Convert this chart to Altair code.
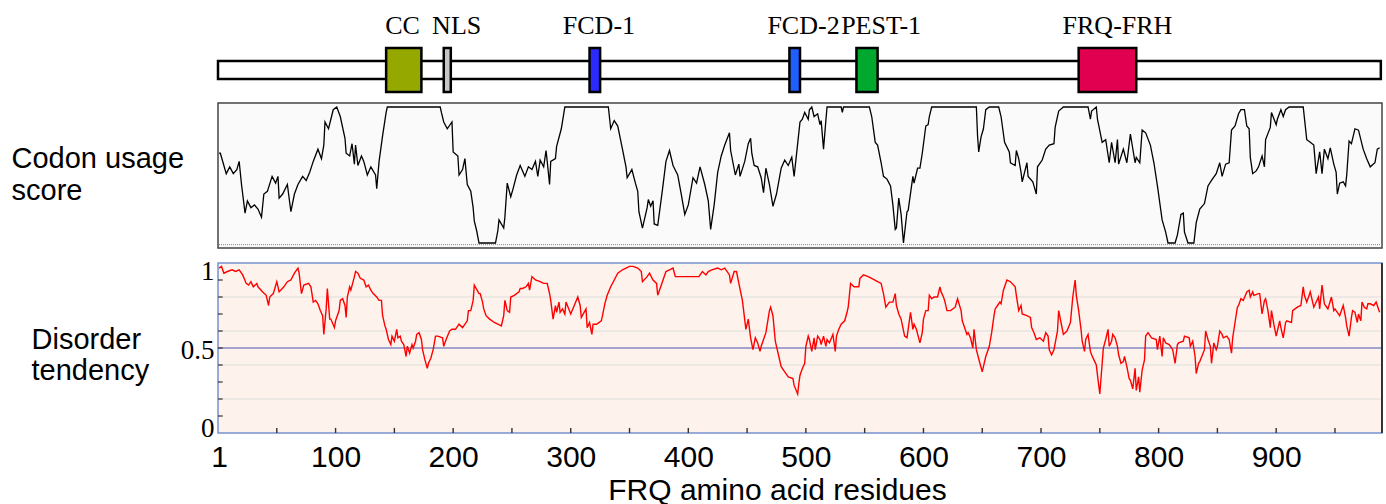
import altair as alt
import pandas as pd

# ---------------- data ----------------
SEQ_END = 990

domain_names = ["CC", "NLS", "FCD-1", "FCD-2", "PEST-1", "FRQ-FRH"]
domain_start = [143, 192, 316, 486, 543, 732]
domain_end = [173, 198, 325, 495, 561, 781]
domain_label_pos = [157, 203, 324, 498, 564, 765]
domain_colors = ["#94a800", "#c6c6c6", "#2b2bff", "#1f5eff", "#00a82d", "#e1004f"]

codon_res = [1, 2, 7, 10, 13, 16, 18, 20, 23, 25, 28, 31, 34, 37, 39, 42, 46, 49, 51, 52,
             55, 59, 62, 65, 68, 72, 75, 78, 81, 85, 88, 90, 91, 94, 98, 101, 104, 108, 109, 112,
             114, 116, 117, 119, 122, 124, 127, 130, 134, 135, 137, 140, 143, 144, 189, 190, 192, 195, 199, 200,
             204, 205, 208, 210, 212, 215, 217, 218, 220, 222, 236, 238, 239, 243, 244, 246, 249, 251, 254, 257,
             261, 264, 267, 270, 272, 274, 277, 279, 280, 282, 283, 287, 288, 292, 295, 332, 334, 337, 340, 344,
             347, 348, 352, 355, 357, 358, 361, 365, 366, 368, 370, 371, 374, 378, 381, 384, 387, 391, 394, 397,
             400, 404, 407, 410, 414, 417, 419, 422, 425, 428, 431, 435, 436, 440, 443, 444, 448, 451, 453, 454,
             456, 459, 462, 464, 466, 469, 472, 475, 479, 482, 485, 488, 490,
             494, 495, 497, 499, 502, 503, 505, 507, 510, 512, 513, 515, 517, 518, 530, 531, 532, 554, 556, 559,
             561, 564, 566, 569, 572, 574, 576, 577, 579, 581, 583, 586, 587, 591, 592, 595, 597, 599, 602, 604,
             605, 607, 645, 646, 647, 649, 651, 653, 656, 664, 666, 669, 673, 674, 678, 679, 681, 683, 684, 688,
             689, 693, 694, 696, 697, 701, 704, 707, 711, 712, 715, 719, 740, 742, 743, 747, 748, 752, 755, 758,
             760, 763, 765, 766, 770, 773, 776, 780, 781, 784, 786, 789, 793, 796, 799, 803, 806, 808, 814, 816,
             819, 821, 822, 825, 830, 832, 835, 839, 842, 845, 849, 852, 854, 857, 860, 862, 865, 868, 870, 873,
             875, 877, 878, 880, 883, 885, 888, 890, 891, 895, 896, 900, 901, 904, 906, 908, 911, 923, 926, 929,
             932, 934, 937, 939, 941, 944, 946, 949, 951, 952, 954, 957, 959, 960, 962, 964, 967, 970, 974, 977,
             980, 984, 986, 988]
codon_val = [0.66, 0.66, 0.51, 0.56, 0.51, 0.54, 0.60, 0.43, 0.22, 0.31, 0.26, 0.28, 0.25, 0.19, 0.36, 0.38, 0.49, 0.44, 0.49, 0.33,
             0.36, 0.43, 0.23, 0.36, 0.43, 0.49, 0.46, 0.52, 0.60, 0.69, 0.62, 0.72, 0.89, 0.84, 0.98, 1.0, 0.93, 0.77, 0.66, 0.64,
             0.73, 0.58, 0.72, 0.57, 0.64, 0.60, 0.50, 0.56, 0.50, 0.40, 0.60, 0.79, 0.96, 1.0, 1.0, 0.96, 0.89, 0.84, 0.89, 0.67,
             0.64, 0.50, 0.54, 0.62, 0.43, 0.38, 0.26, 0.16, 0.09, 0.0, 0.0, 0.09, 0.17, 0.11, 0.19, 0.44, 0.34, 0.40, 0.50, 0.57,
             0.49, 0.56, 0.54, 0.60, 0.49, 0.61, 0.56, 0.68, 0.60, 0.43, 0.60, 0.62, 0.71, 0.84, 1.0, 1.0, 0.84, 0.90, 0.86, 0.69,
             0.56, 0.48, 0.54, 0.44, 0.38, 0.23, 0.11, 0.26, 0.32, 0.27, 0.31, 0.14, 0.13, 0.39, 0.60, 0.68, 0.57, 0.50, 0.36, 0.21,
             0.28, 0.48, 0.44, 0.56, 0.43, 0.31, 0.10, 0.28, 0.52, 0.64, 0.72, 0.81, 0.68, 0.50, 0.58, 0.49, 0.60, 0.73, 0.77, 0.66,
             0.57, 0.56, 0.48, 0.37, 0.55, 0.43, 0.27, 0.36, 0.55, 0.61, 0.57, 0.63, 0.49,
             0.81, 0.89, 0.91, 0.96, 0.91, 0.98, 1.0, 0.93, 0.95, 0.87, 0.90, 0.69, 0.90, 1.0, 1.0, 0.96, 1.0, 1.0, 0.93, 0.74,
             0.72, 0.59, 0.49, 0.47, 0.42, 0.28, 0.10, 0.11, 0.33, 0.21, 0.0, 0.23, 0.24, 0.49, 0.44, 0.55, 0.55, 0.66, 0.86, 0.87,
             0.93, 1.0, 1.0, 0.79, 0.67, 0.78, 0.84, 0.98, 1.0, 1.0, 0.93, 0.74, 0.67, 0.59, 0.57, 0.68, 0.62, 0.52, 0.45, 0.59,
             0.49, 0.45, 0.42, 0.36, 0.56, 0.61, 0.69, 0.72, 0.73, 0.85, 0.97, 1.0, 1.0, 0.91, 0.97, 1.0, 0.91, 0.74, 0.76, 0.59,
             0.74, 0.59, 0.76, 0.58, 0.69, 0.59, 0.80, 0.59, 0.63, 0.59, 0.83, 0.81, 0.72, 0.59, 0.42, 0.17, 0.08, 0.0, 0.0, 0.06,
             0.21, 0.22, 0.08, 0.0, 0.0, 0.15, 0.25, 0.29, 0.42, 0.46, 0.51, 0.59, 0.49, 0.58, 0.59, 0.83, 0.86, 0.95, 0.98, 0.98,
             0.86, 0.84, 0.63, 0.51, 0.53, 0.56, 0.64, 0.56, 0.76, 0.85, 0.96, 0.87, 0.91, 0.98, 0.93, 0.98, 1.0, 1.0, 0.76, 0.74,
             0.72, 0.51, 0.67, 0.51, 0.69, 0.62, 0.70, 0.58, 0.52, 0.36, 0.44, 0.45, 0.42, 0.50, 0.75, 0.73, 0.84, 0.83, 0.69, 0.62,
             0.56, 0.59, 0.69, 0.70]

dis_res = [1, 3, 5, 8, 12, 15, 18, 21, 24, 26, 28, 30, 33, 34, 38, 41, 43, 44, 47, 50,
           52, 56, 59, 62, 65, 68, 69, 71, 73, 77, 79, 81, 83, 85, 87, 89, 90, 92, 93, 95,
           96, 99, 100, 103, 104, 106, 108, 109, 110, 112, 113, 116, 117, 119, 121, 124, 126, 128, 130, 132,
           135, 137, 139, 140, 142, 143, 145, 147, 148, 150, 152, 153, 155, 156, 158, 160, 161, 163, 165, 166,
           168, 169, 171, 173, 174, 176, 178, 179, 181, 183, 185, 187, 191, 192, 194, 197, 199, 202, 205, 208,
           212, 213, 215, 217, 218, 222, 223, 225, 226, 228, 231, 235, 238, 241, 243, 244, 246, 248, 249, 252,
           256, 257, 259, 262, 264, 265, 267, 270, 274, 277, 280, 282, 283, 285, 287, 288, 290, 291, 293, 295,
           296, 300, 303, 306, 308, 309, 313, 314, 316, 318, 319, 322, 326, 327, 329, 331, 334, 337, 340, 344,
           347, 350, 353, 357, 360, 361, 365, 367, 370, 373, 374, 378, 381, 384, 387, 389, 392, 397, 404, 409,
           412, 415, 417, 420, 425, 428, 431, 435, 436, 439, 441, 443, 446, 449, 451, 453, 455, 457, 459, 461,
           462, 466, 469, 470, 472, 474, 475, 477, 479, 482, 485, 489, 490, 493, 494, 495, 497, 499, 500, 502,
           503, 505, 507, 508, 510, 512, 513, 515, 517, 518, 520, 523, 525, 526, 528, 530, 533, 535, 536, 538,
           541, 545, 546, 549, 553, 556, 561, 564, 566, 568, 571, 574, 576, 577, 579, 581, 584, 586, 589, 591,
           592, 594, 597, 599, 600, 602, 604, 605, 607, 609, 612, 614, 615, 617, 618, 620, 623, 627, 629, 632,
           633, 637, 638, 640, 642, 643, 645, 648, 650, 651, 653, 655, 656, 658, 660, 661, 663, 665, 666, 668,
           671, 674, 678, 679, 681, 683, 684, 688, 691, 692, 694, 696, 699, 702, 704, 706, 707, 709, 711, 714,
           715, 717, 719, 722, 725, 727, 729, 730, 732, 734, 735, 737, 738, 740, 742, 743, 745, 747, 748, 750,
           752, 753, 755, 757, 758, 760, 761, 763, 765, 766, 768, 770, 771, 773, 775, 776, 778, 780, 781, 783,
           784, 786, 788, 789, 791, 794, 798, 799, 801, 803, 804, 806, 809, 812, 814, 816, 817, 821, 822, 826,
           827, 829, 831, 832, 834, 835, 839, 840, 842, 844, 845, 847, 849, 850, 852, 854, 855, 858, 860, 862,
           863, 865, 867, 868, 870, 872, 875, 877, 878, 880, 881, 885, 886, 888, 890, 891, 893, 895, 896, 898,
           900, 901, 903, 904, 906, 908, 909, 913, 914, 918, 921, 923, 924, 926, 927, 929, 931, 932, 936, 937,
           939, 941, 942, 944, 947, 949, 950, 952, 954, 957, 959, 960, 962, 964, 965, 967, 969, 970, 972, 973,
           975, 977, 978, 980, 983, 985, 987, 988]
dis_val = [0.97, 0.98, 0.94, 0.95, 0.96, 0.95, 0.96, 0.93, 0.88, 0.87, 0.89, 0.86, 0.88, 0.86, 0.83, 0.81, 0.75, 0.80, 0.82, 0.89,
           0.83, 0.86, 0.89, 0.90, 0.94, 0.97, 0.94, 0.82, 0.87, 0.88, 0.86, 0.77, 0.78, 0.76, 0.72, 0.69, 0.58, 0.73, 0.85, 0.67,
           0.67, 0.62, 0.66, 0.72, 0.78, 0.79, 0.75, 0.68, 0.80, 0.86, 0.84, 0.92, 0.95, 0.94, 0.91, 0.90, 0.86, 0.87, 0.84, 0.82,
           0.80, 0.78, 0.78, 0.69, 0.63, 0.61, 0.55, 0.52, 0.57, 0.54, 0.61, 0.56, 0.57, 0.54, 0.52, 0.45, 0.51, 0.47, 0.52, 0.50,
           0.54, 0.58, 0.59, 0.55, 0.49, 0.43, 0.38, 0.41, 0.44, 0.49, 0.57, 0.57, 0.56, 0.51, 0.55, 0.60, 0.61, 0.61, 0.64, 0.62,
           0.66, 0.72, 0.72, 0.78, 0.87, 0.82, 0.82, 0.77, 0.73, 0.69, 0.67, 0.65, 0.64, 0.63, 0.69, 0.78, 0.72, 0.71, 0.80, 0.81,
           0.83, 0.85, 0.85, 0.86, 0.88, 0.84, 0.92, 0.90, 0.89, 0.88, 0.88, 0.82, 0.78, 0.67, 0.75, 0.71, 0.77, 0.71, 0.73, 0.70,
           0.77, 0.70, 0.75, 0.80, 0.75, 0.68, 0.73, 0.62, 0.65, 0.58, 0.64, 0.64, 0.66, 0.69, 0.76, 0.81, 0.86, 0.90, 0.94, 0.96,
           0.97, 0.98, 0.98, 0.97, 0.95, 0.89, 0.92, 0.94, 0.90, 0.88, 0.81, 0.89, 0.95, 0.96, 0.97, 0.92, 0.92, 0.92, 0.92, 0.92,
           0.95, 0.93, 0.95, 0.96, 0.97, 0.96, 0.97, 0.93, 0.88, 0.95, 0.95, 0.88, 0.78, 0.61, 0.67, 0.56, 0.49, 0.56, 0.53, 0.48,
           0.51, 0.59, 0.72, 0.74, 0.69, 0.54, 0.51, 0.45, 0.39, 0.36, 0.33, 0.32, 0.28, 0.23, 0.29, 0.34, 0.38, 0.41, 0.51, 0.57,
           0.55, 0.48, 0.56, 0.49, 0.57, 0.55, 0.52, 0.57, 0.51, 0.55, 0.53, 0.58, 0.48, 0.57, 0.61, 0.64, 0.66, 0.71, 0.74, 0.88,
           0.86, 0.86, 0.91, 0.93, 0.92, 0.91, 0.89, 0.88, 0.82, 0.74, 0.77, 0.77, 0.82, 0.75, 0.70, 0.67, 0.57, 0.56, 0.71, 0.61,
           0.64, 0.61, 0.53, 0.59, 0.67, 0.72, 0.72, 0.81, 0.79, 0.80, 0.80, 0.86, 0.83, 0.80, 0.78, 0.72, 0.72, 0.74, 0.79, 0.72,
           0.66, 0.58, 0.59, 0.56, 0.50, 0.61, 0.49, 0.41, 0.36, 0.39, 0.45, 0.49, 0.51, 0.59, 0.69, 0.73, 0.75, 0.77, 0.76, 0.84,
           0.90, 0.89, 0.86, 0.81, 0.72, 0.75, 0.70, 0.69, 0.68, 0.62, 0.59, 0.55, 0.56, 0.54, 0.59, 0.57, 0.49, 0.46, 0.49, 0.60,
           0.72, 0.65, 0.58, 0.60, 0.65, 0.80, 0.90, 0.81, 0.72, 0.61, 0.54, 0.48, 0.55, 0.58, 0.48, 0.46, 0.43, 0.40, 0.34, 0.23,
           0.41, 0.50, 0.55, 0.61, 0.51, 0.54, 0.58, 0.56, 0.51, 0.46, 0.41, 0.42, 0.45, 0.39, 0.32, 0.31, 0.26, 0.38, 0.25, 0.33,
           0.24, 0.37, 0.43, 0.57, 0.59, 0.56, 0.55, 0.49, 0.57, 0.45, 0.56, 0.53, 0.52, 0.49, 0.41, 0.52, 0.53, 0.54, 0.57, 0.56,
           0.51, 0.54, 0.45, 0.35, 0.41, 0.42, 0.49, 0.60, 0.55, 0.51, 0.41, 0.53, 0.49, 0.51, 0.60, 0.58, 0.56, 0.57, 0.55, 0.47,
           0.56, 0.65, 0.74, 0.75, 0.79, 0.78, 0.83, 0.84, 0.80, 0.83, 0.81, 0.82, 0.82, 0.70, 0.78, 0.79, 0.72, 0.62, 0.72, 0.64,
           0.57, 0.60, 0.66, 0.62, 0.56, 0.65, 0.66, 0.65, 0.72, 0.74, 0.75, 0.86, 0.81, 0.77, 0.79, 0.83, 0.77, 0.74, 0.80, 0.73,
           0.87, 0.76, 0.75, 0.73, 0.80, 0.72, 0.73, 0.71, 0.69, 0.75, 0.68, 0.63, 0.57, 0.68, 0.72, 0.71, 0.65, 0.70, 0.66, 0.77,
           0.74, 0.73, 0.76, 0.76, 0.75, 0.77, 0.73, 0.71]

x_label_values = [1, 100, 200, 300, 400, 500, 600, 700, 800, 900]
x_minor_ticks = [50, 100, 150, 200, 250, 300, 350, 400, 450, 500, 550, 600, 650, 700, 750, 800, 850, 900, 950]
y_minor_ticks = [0.1, 0.2, 0.3, 0.4, 0.5, 0.6, 0.7, 0.8, 0.9]
disorder_grid = [0.2, 0.4, 0.6, 0.8]
disorder_threshold = [0.5]
disorder_labels = [0, 0.5, 1]

# ---------------- scales / axes ----------------
XS = alt.Scale(domain=[0, SEQ_END], nice=False, zero=False)
DIS = alt.Scale(domain=[0, 1], range=[433, 263], nice=False, zero=False)
COD = alt.Scale(domain=[0, 1], range=[243, 107], nice=False, zero=False)
DOM = alt.Scale(domain=[-1.5, 3.5], range=[97, 7], nice=False, zero=False)

SANS = "Liberation Sans"
SERIF = "Liberation Serif"

XAXIS = alt.Axis(values=x_label_values, format="d", ticks=False, domain=False, grid=False,
                 labelFont=SANS, labelFontSize=30, labelColor="black", labelPadding=9,
                 labelFlush=False, labelOverlap=False,
                 title="FRQ amino acid residues", titleFont=SANS, titleFontSize=30,
                 titleFontWeight="normal", titleColor="black", titleX=559, titleY=66,
                 titleBaseline="alphabetic", titleAlign="center")


def xenc(field):
    return alt.X(field, scale=XS, axis=XAXIS)


# ---------------- domain-structure panel ----------------
track_df = pd.DataFrame({"s": [0], "e": [SEQ_END - 1], "lo": [-0.5], "hi": [0.5]})
dom_df = pd.DataFrame({"name": domain_names, "s": domain_start, "e": domain_end,
                       "pos": domain_label_pos, "color": domain_colors,
                       "lo": [-1.22] * 6, "hi": [1.22] * 6, "ly": [2.0] * 6})

track = alt.Chart(track_df).mark_rect(fill="white", stroke="black", strokeWidth=2.5).encode(
    x=xenc("s:Q"), x2="e:Q",
    y=alt.Y("lo:Q", scale=DOM, axis=None), y2="hi:Q")
boxes = alt.Chart(dom_df).mark_rect(stroke="black", strokeWidth=2.5).encode(
    x=xenc("s:Q"), x2="e:Q",
    y=alt.Y("lo:Q", scale=DOM, axis=None), y2="hi:Q",
    fill=alt.Fill("color:N", scale=None))
labels = alt.Chart(dom_df).mark_text(font=SERIF, fontSize=26, baseline="alphabetic",
                                     align="center", color="black").encode(
    x=xenc("pos:Q"),
    y=alt.Y("ly:Q", scale=DOM, axis=None),
    text="name:N")

# ---------------- codon usage panel ----------------
codon_df = pd.DataFrame({"res": codon_res, "codon": codon_val})
cframe_df = pd.DataFrame({"s": [0], "e": [SEQ_END], "lo": [-0.037], "hi": [1.03]})
cbase_df = pd.DataFrame({"b": [-0.012]})

c_bg = alt.Chart(cframe_df).mark_rect(fill="#fafafa", stroke="#444444", strokeWidth=1.5).encode(
    x=xenc("s:Q"), x2="e:Q",
    y=alt.Y("lo:Q", scale=COD, axis=None), y2="hi:Q")
c_base = alt.Chart(cbase_df).mark_rule(color="#888888", strokeWidth=1, strokeDash=[1, 1]).encode(
    y=alt.Y("b:Q", scale=COD, axis=None))
c_line = alt.Chart(codon_df).mark_line(color="black", strokeWidth=1.3).encode(
    x=xenc("res:Q"),
    y=alt.Y("codon:Q", scale=COD,
            axis=alt.Axis(title=["Codon usage", "score"], labels=False, ticks=False, domain=False,
                          grid=False, orient="left", titleAngle=0, titleAlign="left",
                          titleBaseline="alphabetic", titleX=-207, titleY=167,
                          titleFont=SANS, titleFontSize=29, titleFontWeight="normal",
                          titleColor="black", titleLineHeight=32)))

# ---------------- disorder panel ----------------
dis_df = pd.DataFrame({"res": dis_res, "dis": dis_val})
dframe_df = pd.DataFrame({"s": [0], "e": [SEQ_END], "lo": [0], "hi": [1]})

d_bg = alt.Chart(dframe_df).mark_rect(fill="#fef2ec", stroke="#7693cf", strokeWidth=1.5).encode(
    x=xenc("s:Q"), x2="e:Q",
    y=alt.Y("lo:Q", scale=DIS, axis=None), y2="hi:Q")
d_grid = alt.Chart(pd.DataFrame({"g": disorder_grid})).mark_rule(color="#dedede", strokeWidth=1.2).encode(
    y=alt.Y("g:Q", scale=DIS, axis=None))
d_half = alt.Chart(pd.DataFrame({"h": disorder_threshold})).mark_rule(color="#4a58b0", strokeWidth=1.2).encode(
    y=alt.Y("h:Q", scale=DIS, axis=None))
d_yt = alt.Chart(pd.DataFrame({"t": y_minor_ticks, "a": [0] * 9, "b": [4] * 9})).mark_rule(
    color="#333333", strokeWidth=1.2).encode(
    x=xenc("a:Q"), x2="b:Q",
    y=alt.Y("t:Q", scale=DIS, axis=None))
d_xt = alt.Chart(pd.DataFrame({"t": x_minor_ticks, "a": [0] * 19, "b": [0.03] * 19})).mark_rule(
    color="#333333", strokeWidth=1.4).encode(
    x=xenc("t:Q"),
    y=alt.Y("a:Q", scale=DIS, axis=None), y2="b:Q")
d_right = alt.Chart(dframe_df).mark_rule(color="#333333", strokeWidth=2).encode(
    x=xenc("e:Q"),
    y=alt.Y("lo:Q", scale=DIS, axis=None), y2="hi:Q")
d_line = alt.Chart(dis_df).mark_line(color="#ff0000", strokeWidth=1.4).encode(
    x=xenc("res:Q"),
    y=alt.Y("dis:Q", scale=DIS,
            axis=alt.Axis(values=disorder_labels, format="~g", ticks=False, domain=False, grid=False,
                          labelFont=SERIF, labelFontSize=27, labelColor="black", labelPadding=4,
                          labelFlush=True, labelOffset=2, labelFlushOffset=7, orient="left",
                          title=["Disorder", "tendency"], titleFont=SANS, titleFontSize=29,
                          titleFontWeight="normal", titleColor="black", titleAngle=0,
                          titleAlign="left", titleBaseline="alphabetic", titleX=-187, titleY=348,
                          titleLineHeight=31)))

chart = alt.layer(
    track, boxes, labels,
    c_bg, c_base, c_line,
    d_bg, d_grid, d_half, d_yt, d_xt, d_line, d_right,
).resolve_scale(y="independent").properties(
    width=1164, height=433,
    autosize=alt.AutoSizeParams(type="none"),
    padding={"left": 218, "top": 0, "right": 4, "bottom": 71},
    background="white",
).configure_view(stroke=None)

chart.save("out.html", embed_options={"renderer": "svg", "actions": False})
